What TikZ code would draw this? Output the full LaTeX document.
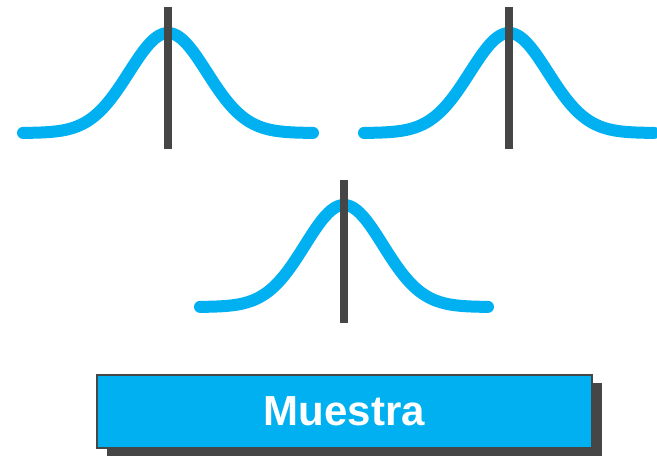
\documentclass[tikz,border=0pt]{standalone}
\usepackage{fontspec}
\setmainfont{Liberation Sans}
\usepackage{xcolor}
\usepackage{tikz}
\usetikzlibrary{positioning}

\definecolor{bellcyan}{HTML}{00B0F0}
\definecolor{meangray}{HTML}{464646}

\tikzset{
    bell/.style={line width=12pt, bellcyan, line cap=round, line join=round},
    meanline/.style={line width=8pt, meangray},
    samplebox/.style={draw=meangray, line width=2pt, fill=bellcyan, minimum width=495pt, minimum height=73pt,
        text=white, font=\fontsize{42}{50}\selectfont\bfseries}
}

\begin{document}
\begin{tikzpicture}[x=1pt, y=-1pt]
\useasboundingbox (0,0) rectangle (657,457);

% Top left curve
\begin{scope}[shift={(168,133)}]
    \draw[bell] plot[domain=-145:145, samples=120, smooth] (\x, {-100*exp(-((\x/39)^2)/2)});
    \draw[meanline] (0,-126) -- (0,16);
\end{scope}

% Top right curve
\begin{scope}[shift={(509,133)}]
    \draw[bell] plot[domain=-145:145, samples=120, smooth] (\x, {-100*exp(-((\x/39)^2)/2)});
    \draw[meanline] (0,-126) -- (0,16);
\end{scope}

% Bottom curve
\begin{scope}[shift={(344,307)}]
    \draw[bell] plot[domain=-144:144, samples=120, smooth] (\x, {-102*exp(-((\x/39)^2)/2)});
    \draw[meanline] (0,-127) -- (0,16);
\end{scope}

% Sample box with shadow
\fill[meangray] (107,383) rectangle (602,456);
\node[samplebox] (muestra) at (344.5,411.5) {Muestra};

\end{tikzpicture}
\end{document}
